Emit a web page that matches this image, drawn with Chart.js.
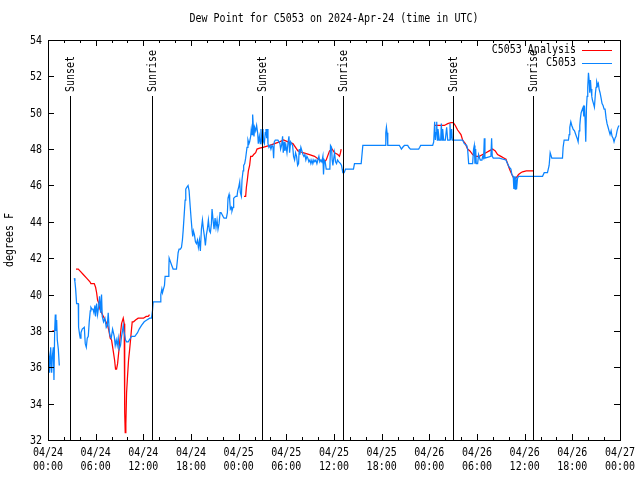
<!DOCTYPE html>
<html>
<head>
<meta charset="utf-8">
<title>Dew Point for C5053</title>
<script src="https://cdn.jsdelivr.net/npm/chart.js@4/dist/chart.umd.min.js"></script>
<style>
    body { margin: 0; background: #fff; }
</style>
</head>
<body>
<canvas id="myChart" width="640" height="480"></canvas>
<script>
// all times are hours since 2024-04-24 00:00 UTC, null = gap in the record

// C5053 observations
let obsHours = [
    0.0, 0.13, 0.21, 0.34, 0.46, 0.55, 0.67, 0.75, 0.84, 0.92, 1.0, 1.09, 1.17, 1.3, 1.42,
    2.0,
    3.31, 3.39, 3.48, 3.6, 3.81, 3.85, 3.98, 4.06, 4.15, 4.31, 4.57, 4.69, 4.82, 4.94, 5.07,
    5.19, 5.32, 5.4, 5.53, 5.66, 5.78, 5.91, 5.99, 6.12, 6.24, 6.37, 6.49, 6.62, 6.74, 6.83,
    6.99, 7.16, 7.33, 7.46, 7.58, 7.71, 7.83, 7.96, 8.13, 8.34, 8.46, 8.59, 8.71, 8.84, 8.96,
    9.13, 9.26, 9.38, 9.47, 9.59, 9.76, 9.89, 10.1, 10.51, 10.93, 11.27, 11.48, 11.77, 12.11,
    12.44, 12.8, 13.03, 13.15, 13.24, 14.16, 14.2, 14.33, 14.41, 14.53, 14.66, 14.74, 15.12,
    15.21, 15.25, 15.41, 15.58, 15.75, 15.96, 16.17, 16.29, 16.38, 16.5, 16.67, 16.8, 16.92,
    17.01, 17.13, 17.26, 17.34, 17.47, 17.63, 17.76, 17.89, 18.01, 18.14, 18.22, 18.3, 18.43,
    18.56, 18.68, 18.81, 18.93, 19.06, 19.18, 19.31, 19.44, 19.56, 19.69, 19.81, 19.94, 20.06,
    20.19, 20.32, 20.44, 20.57, 20.65, 20.78, 20.9, 21.03, 21.15, 21.28, 21.4, 21.53, 21.66,
    21.78, 21.91, 22.03, 22.16, 22.45, 22.58, 22.66, 22.79, 22.87, 22.95, 23.08, 23.16, 23.29,
    23.37, 23.62, 23.79, 23.88, 24.0, 24.13, 24.21, 24.34, 24.42, 24.55, 24.63, 24.76, 24.88,
    25.05, 25.17, 25.3, 25.38, 25.51, 25.59, 25.68, 25.76, 25.84, 25.93, 26.01, 26.14, 26.26,
    26.39, 26.47, 26.6, 26.72, 26.81, 26.89, 26.98, 27.06, 27.14, 27.23, 27.35, 27.44, 27.52,
    27.6, 27.69, 27.81, 27.94, 28.06, 28.19, 28.32, 28.4, 28.48, 28.61, 28.94, 29.07, 29.2,
    29.28, 29.4, 29.53, 29.61, 29.74, 29.82, 29.95, 30.08, 30.2, 30.33, 30.41, 30.54, 30.66,
    30.79, 30.91, 31.04, 31.16, 31.29, 31.42, 31.54, 31.62, 31.71, 31.83, 31.96, 32.09, 32.21,
    32.34, 32.46, 32.59, 32.71, 32.84, 32.97, 33.09, 33.22, 33.34, 33.47, 33.59, 33.72, 33.85,
    33.97, 34.1, 34.22, 34.35, 34.47, 34.6, 34.68, 34.77, 34.89, 35.02, 35.48, 35.56, 35.69,
    35.77, 35.86, 35.94, 36.07, 36.19, 36.32, 36.44, 36.61, 36.82, 36.95, 37.03, 37.11, 37.28,
    37.45, 38.45, 38.58, 39.42, 39.63, 42.43, 42.52, 42.6, 42.68, 42.77, 44.23, 44.36, 44.48,
    44.65, 44.86, 45.28, 45.41, 45.62, 46.66, 46.79, 46.91, 48.42, 48.55, 48.67, 48.76, 48.84,
    48.93, 49.01, 49.09, 49.26, 49.43, 49.51, 49.6, 49.68, 49.8, 50.01, 50.18, 50.31, 50.52,
    50.6, 50.68, 50.81, 50.89, 52.19, 52.4, 52.7, 52.82, 52.95, 53.45, 53.57, 53.66, 53.74,
    53.83, 53.91, 54.08, 54.2, 54.41, 54.62, 54.71, 54.83, 54.92, 55.0, 55.75, 55.84, 55.92,
    56.05, 56.8, 57.64, 57.85, 58.06, 58.27, 58.39, 58.56, 58.64, 58.69, 58.81, 58.89, 58.98,
    59.1, 59.23, 59.73, 62.25, 62.46, 62.87, 63.08, 63.21, 63.42, 64.76, 64.84, 64.97, 65.51,
    65.6, 65.68, 65.81, 65.93, 66.1, 66.27, 66.43, 66.6, 66.73, 66.85, 66.94, 67.02, 67.11,
    67.27, 67.36, 67.44, 67.52, 67.61, 67.69, 67.78, 67.86, 67.94, 68.03, 68.11, 68.19, 68.28,
    68.36, 68.45, 68.53, 68.66, 68.78, 68.91, 68.99, 69.07, 69.2, 69.28, 69.37, 69.49, 69.62,
    69.74, 69.87, 70.0, 70.12, 70.25, 70.37, 70.5, 70.62, 70.75, 70.88, 71.0, 71.13, 71.25,
    71.38, 71.5, 71.63, 71.76, 71.88
];
let obsDew = [
    37.1, 36.6, 35.7, 37.1, 35.7, 36.6, 37.1, 35.3, 38.0, 38.9, 38.0, 38.6, 37.5, 37.0, 36.1,
    null,
    40.9, 40.7, 40.3, 39.5, 39.5, 38.2, 37.8, 37.6, 37.9, 38.1, 38.2, 37.3, 37.1, 37.6, 37.7,
    38.5, 39.1, 39.3, 39.2, 39.2, 39.0, 39.4, 38.8, 39.5, 38.9, 39.3, 39.9, 39.0, 40.0, 38.8,
    38.5, 38.7, 38.2, 38.3, 39.0, 38.0, 37.7, 37.6, 38.1, 37.7, 37.2, 37.5, 37.2, 37.6, 37.0,
    37.2, 37.7, 38.0, 38.3, 37.9, 37.5, 37.4, 37.4, 37.7, 37.7, 37.9, 38.1, 38.3, 38.5,
    38.6, 38.7, 38.7, 39.1, 39.6, 39.6, 40.0, 40.3, 40.1, 40.3, 40.5, 41.0, 41.0,
    41.4, 42.0, 41.8, 41.6, 41.4, 41.4, 41.4, 41.9, 42.3, 42.5, 42.5, 42.6, 43.0,
    43.5, 44.3, 45.2, 45.8, 45.9, 46.0, 45.7, 44.9, 44.2, 43.5, 43.2, 43.5, 43.3,
    42.9, 42.8, 43.0, 42.6, 43.0, 42.4, 43.6, 44.1, 43.6, 43.2, 42.7, 43.3, 43.6,
    44.1, 43.5, 43.4, 43.9, 44.7, 44.1, 43.6, 44.2, 43.7, 44.1, 43.6, 43.9, 44.5,
    44.5, 44.4, 44.3, 44.2, 44.2, 44.5, 45.3, 45.5, 45.2, 44.7, 44.8, 44.6, 44.8,
    45.3, 45.4, 45.4, 45.7, 45.9, 46.2, 45.6, 45.4, 46.3, 46.8, 47.1, 47.2, 47.5,
    48.1, 48.5, 48.3, 48.4, 48.7, 49.1, 48.8, 49.9, 49.3, 48.7, 49.2, 49.0, 49.3,
    48.9, 48.3, 48.7, 48.3, 49.1, 48.5, 48.7, 49.1, 48.4, 48.3, 48.9, 49.1, 48.6,
    49.1, 48.3, 48.1, 48.2, 48.0, 48.2, 48.1, 47.5, 48.4, 48.5, 48.5, 48.4, 48.3,
    48.0, 48.2, 48.7, 47.8, 48.4, 47.9, 48.2, 47.8, 48.3, 48.7, 47.8, 48.4, 48.3,
    48.2, 47.6, 47.4, 47.8, 47.6, 47.1, 47.2, 48.0, 47.7, 48.1, 47.9, 47.7, 47.6,
    47.7, 47.4, 47.6, 47.5, 47.3, 47.4, 47.2, 47.4, 47.2, 47.4, 47.3, 47.4, 47.2,
    47.4, 47.6, 47.3, 47.4, 47.3, 47.6, 46.6, 47.4, 47.3, 46.9, 46.9, 48.2, 48.1,
    47.4, 47.1, 47.4, 47.8, 47.3, 47.2, 47.4, 47.3, 47.2, 47.1, 46.9, 46.7, 46.7,
    46.9, 46.9, 47.2, 47.2, 48.2, 48.2, 48.9, 49.2, 48.9, 48.2, 48.2, 48.1, 48.0,
    48.1, 48.2, 48.2, 48.1, 48.0, 48.0, 48.1, 48.2, 48.2, 48.4, 49.5, 48.5, 48.9,
    49.5, 48.5, 49.1, 48.5, 48.5, 49.4, 48.5, 49.1, 48.5, 48.5, 49.2, 48.5, 48.5,
    49.4, 48.5, 49.1, 48.5, 48.5, 48.3, 48.2, 48.0, 47.2, 47.2, 48.0, 48.2, 47.2,
    48.0, 47.2, 47.2, 47.7, 47.4, 47.4, 47.6, 47.5, 48.6, 47.5, 47.6, 48.6, 47.6,
    47.5, 47.5, 47.4, 47.2, 47.0, 46.9, 46.6, 46.5, 45.8, 46.5, 45.8, 46.5, 45.8,
    46.4, 46.5, 46.5, 46.5, 46.7, 46.7, 47.1, 47.8, 47.5, 47.5, 48.1, 48.5, 48.5,
    48.8, 49.2, 49.5, 49.3, 49.1, 49.0, 48.8, 48.6, 48.4, 49.0, 49.3, 49.7, 50.0,
    50.2, 50.3, 49.8, 50.4, 49.6, 48.4, 50.3, 50.9, 51.4, 52.2, 51.8, 51.1, 51.8,
    51.3, 50.9, 50.7, 50.5, 50.3, 51.1, 51.4, 51.7, 51.5, 51.6, 51.3, 51.1, 50.8,
    50.5, 50.4, 50.2, 50.2, 49.7, 49.4, 49.2, 49.0, 48.8, 49.0, 48.7, 48.6, 48.4,
    48.6, 48.7, 49.0, 49.2, 49.3
];

// C5053 Analysis
let anaHours = [
    0.55, 0.88,
    2.0,
    3.52, 3.81, 4.02, 4.44, 4.86, 5.28, 5.4, 5.82, 5.99, 6.12, 6.24, 6.41, 6.53, 6.74, 7.08,
    7.29, 7.5, 7.67, 7.83, 8.0, 8.21, 8.38, 8.5, 8.63, 8.76, 8.92, 9.09, 9.26, 9.47, 9.59,
    9.63, 9.68, 9.72, 9.8, 9.89, 10.01, 10.14, 10.26, 10.39, 10.47, 10.6, 10.77, 11.02, 11.35,
    11.69, 12.02, 12.36, 12.61, 12.78,
    18.0,
    24.67, 24.88, 24.97, 25.09, 25.22, 25.38, 25.51, 25.72, 25.89, 26.14, 26.31, 26.64, 27.06,
    27.9, 28.52, 29.15, 29.66, 30.2, 30.83, 31.46, 32.09, 32.92, 33.55, 34.18, 34.81, 35.02,
    35.44, 35.77, 36.07, 36.48, 36.69, 36.82, 36.9,
    42.0,
    48.63, 49.89, 50.31, 50.73, 51.02, 51.27, 51.56, 51.98, 52.19, 52.53, 52.82, 53.11, 53.45,
    53.87, 54.29, 54.71, 55.13, 55.54, 55.96, 56.3, 56.59, 57.01, 57.43, 57.65, 57.93, 58.14,
    58.39, 58.56, 58.81, 58.98, 59.23, 59.52, 59.73, 60.2, 61.12
];
let anaDew = [
    38.0, 38.0,
    null,
    41.4, 41.4, 41.3, 41.1, 40.9, 40.7, 40.6, 40.6, 40.4, 40.1, 39.7, 39.5, 39.2, 39.0, 38.7,
    38.5, 38.3, 38.0, 37.6, 37.5, 36.9, 36.4, 35.9, 35.9, 36.2, 36.9, 37.7, 38.4, 38.7, 38.4,
    35.5, 33.5, 32.4, 32.9, 34.6, 35.5, 36.4, 36.9, 37.5, 37.9, 38.5, 38.5, 38.6, 38.7,
    38.7, 38.7, 38.8, 38.8, 38.9,
    null,
    45.4, 45.4, 45.9, 46.3, 46.8, 47.1, 47.6, 47.6, 47.7, 47.8, 48.0, 48.05, 48.1,
    48.2, 48.3, 48.4, 48.5, 48.4, 48.3, 47.9, 47.8, 47.7, 47.6, 47.4, 47.3, 47.4,
    47.9, 48.0, 47.8, 47.7, 47.6, 47.8, 48.0,
    null,
    49.3, 49.3, 49.4, 49.45, 49.45, 49.3, 49.05, 48.8, 48.5, 48.3, 48.0, 47.9, 47.7,
    47.6, 47.6, 47.7, 47.8, 47.9, 48.0, 47.9, 47.7, 47.6, 47.5, 47.45, 47.1, 46.85,
    46.6, 46.45, 46.4, 46.45, 46.6, 46.7, 46.75, 46.8, 46.8
];

// sunrise / sunset markers
let sunHours = [2.8, 13.05, 26.98, 37.1, 51.02, 61.1];
let sunLabels = ['Sunset', 'Sunrise', 'Sunset', 'Sunrise', 'Sunset', 'Sunrise'];

let firstDay = 24;   // 04/24
let yMin = 32, yMax = 54, yStep = 2;
let xMax = 72, xStep = 6, xMinorStep = 2;

let titleText = 'Dew Point for C5053 on 2024-Apr-24 (time in UTC)';
let yTitle = 'degrees F';
let anaName = 'C5053 Analysis';
let obsName = 'C5053';
let anaColor = '#ff0000';
let obsColor = '#0a84ff';

let font = '10px "DejaVu Sans Mono"';

function pad(n) {
    return (n < 10 ? '0' : '') + n;
}

function dayLabel(h) {
    return '04/' + pad(firstDay + Math.floor(h / 24));
}

function timeLabel(h) {
    return pad(h % 24) + ':00';
}

function toPoints(hours, values) {
    return hours.map(function (h, i) { return {x: h, y: values[i]}; });
}

// gnuplot font is tall and narrow, stretch a bit vertically
function text(ctx, s, x, y, align, rot) {
    ctx.save();
    ctx.translate(x, y);
    if (rot) ctx.rotate(rot);
    ctx.scale(1, 1.3);
    ctx.textAlign = align;
    ctx.textBaseline = 'middle';
    ctx.fillText(s, 0, 0);
    ctx.restore();
}

function seg(ctx, x1, y1, x2, y2) {
    ctx.beginPath();
    ctx.moveTo(x1, y1);
    ctx.lineTo(x2, y2);
    ctx.stroke();
}

let frame = {
    id: 'frame',
    afterDraw: function (chart) {
        let ctx = chart.ctx;
        let a = chart.chartArea;
        let xs = chart.scales.x;
        let ys = chart.scales.y;

        ctx.save();
        ctx.strokeStyle = '#000';
        ctx.fillStyle = '#000';
        ctx.lineWidth = 1;
        ctx.font = font;

        // sunrise / sunset lines
        let lineTop = a.bottom - 0.86 * (a.bottom - a.top);
        sunHours.forEach(function (h, i) {
            let px = Math.round(xs.getPixelForValue(h)) + 0.5;
            seg(ctx, px, a.bottom, px, lineTop);
            text(ctx, sunLabels[i], px, lineTop - 4, 'left', -Math.PI / 2);
        });

        // border
        ctx.strokeRect(a.left + 0.5, a.top + 0.5, a.right - a.left, a.bottom - a.top);

        // y ticks, inward on both sides
        ys.ticks.forEach(function (t) {
            let py = Math.round(ys.getPixelForValue(t.value)) + 0.5;
            seg(ctx, a.left, py, a.left + 6, py);
            seg(ctx, a.right, py, a.right - 6, py);
            text(ctx, String(t.value), a.left - 6, py, 'right');
        });

        // x ticks, major every 6 h, minor every 2 h
        for (let h = 0; h <= xMax; h += xMinorStep) {
            let px = Math.round(xs.getPixelForValue(h)) + 0.5;
            let len = h % xStep === 0 ? 6 : 3;
            seg(ctx, px, a.bottom, px, a.bottom - len);
            seg(ctx, px, a.top, px, a.top + len);
        }
        xs.ticks.forEach(function (t) {
            let px = xs.getPixelForValue(t.value);
            text(ctx, dayLabel(t.value), px, a.bottom + 13, 'center');
            text(ctx, timeLabel(t.value), px, a.bottom + 27, 'center');
        });

        // titles
        text(ctx, titleText, (a.left + a.right) / 2, 19, 'center');
        text(ctx, yTitle, 10, (a.top + a.bottom) / 2, 'center', -Math.PI / 2);

        // key
        text(ctx, anaName, 576, 50, 'right');
        text(ctx, obsName, 576, 63, 'right');
        ctx.strokeStyle = anaColor;
        seg(ctx, 582, 50.5, 612, 50.5);
        ctx.strokeStyle = obsColor;
        seg(ctx, 582, 63.5, 612, 63.5);

        ctx.restore();
    }
};

let ctx = document.getElementById('myChart').getContext('2d');
let config = {
    type: 'line',
    data: {
        datasets: [
            {
                label: anaName,
                data: toPoints(anaHours, anaDew),
                borderColor: anaColor,
                borderWidth: 1.25,
                pointRadius: 0,
                tension: 0,
                spanGaps: false,
                order: 2
            },
            {
                label: obsName,
                data: toPoints(obsHours, obsDew),
                borderColor: obsColor,
                borderWidth: 1.25,
                pointRadius: 0,
                tension: 0,
                spanGaps: false,
                order: 1
            }
        ]
    },
    options: {
        responsive: false,
        devicePixelRatio: 1,
        animation: false,
        layout: {padding: {left: 0, top: 40, right: 20, bottom: 0}},
        plugins: {
            legend: {display: false},
            title: {display: false},
            tooltip: {enabled: false}
        },
        scales: {
            x: {
                type: 'linear',
                min: 0,
                max: xMax,
                ticks: {display: false, stepSize: xStep},
                grid: {display: false},
                border: {display: false},
                afterFit: function (s) { s.height = 40; }
            },
            y: {
                min: yMin,
                max: yMax,
                ticks: {display: false, stepSize: yStep},
                grid: {display: false},
                border: {display: false},
                afterFit: function (s) { s.width = 48; }
            }
        }
    },
    plugins: [frame]
};
window.myChart = new Chart(ctx, config);
</script>
</body>
</html>
